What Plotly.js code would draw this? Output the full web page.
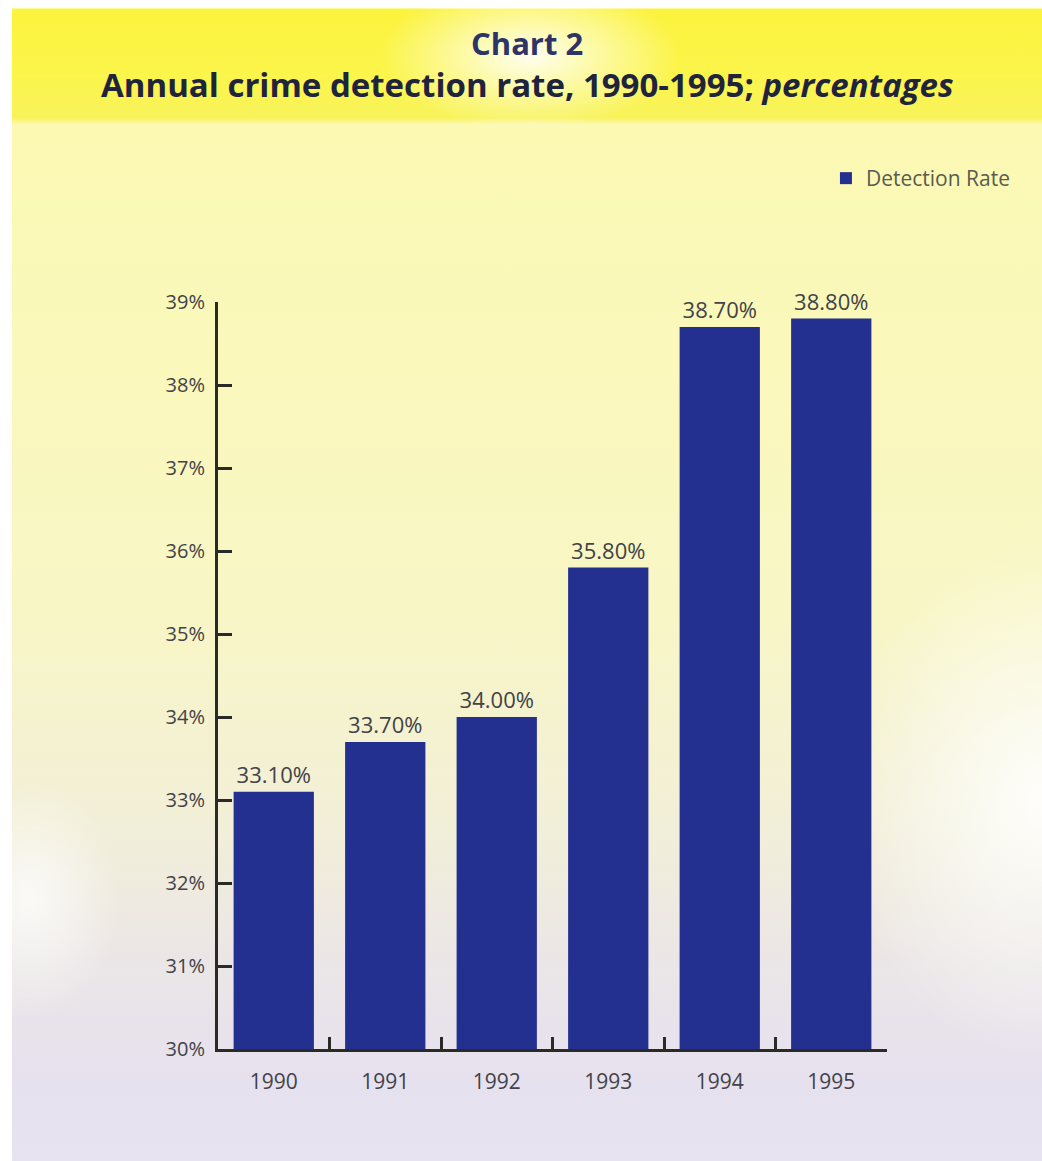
<!DOCTYPE html>
<html>
<head>
<meta charset="utf-8">
<script src="https://cdn.plot.ly/plotly-3.0.1.min.js"></script>
<style>
  html, body { margin: 0; padding: 0; background: #ffffff; }
  #wrap {
    position: relative; width: 1042px; height: 1161px; overflow: hidden;
    background:
      radial-gradient(ellipse 150px 75px at 530px 55px, rgba(255,255,250,0.95), rgba(255,255,250,0) 100%),
      radial-gradient(ellipse 200px 260px at 1040px 800px, rgba(255,255,255,0.9), rgba(255,255,255,0) 100%),
      radial-gradient(ellipse 90px 120px at 30px 900px, rgba(255,255,255,0.75), rgba(255,255,255,0) 100%),
      linear-gradient(to bottom,
        #ffffff 0px, #ffffff 8px,
        #fbf33c 9px, #fbf54a 70px, #f8f35a 118px,
        #fbf9b2 124px, #faf8bc 380px, #f8f6c6 620px,
        #f2efd8 820px, #ebe6e6 960px, #e6e1ee 1080px, #e8e3f0 1161px);
  }
  #wrap::before {
    content: ""; position: absolute; left: 0; top: 0; width: 12px; height: 1161px; background: #ffffff;
  }
  #chart { position: absolute; left: 0; top: 0; width: 1042px; height: 1161px; }
</style>
</head>
<body>
<div id="wrap"><div id="chart"></div></div>
<script>
// ---- data ----
const years = ["1990", "1991", "1992", "1993", "1994", "1995"];
const detectionRate = [33.1, 33.7, 34.0, 35.8, 38.7, 38.8];
const seriesName = "Detection Rate";
const yTickValues = [30, 31, 32, 33, 34, 35, 36, 37, 38, 39];
const yTickLabels = ["30%", "31%", "32%", "33%", "34%", "35%", "36%", "37%", "38%", "39%"];
const titleLine1 = "Chart 2";
const titleLine2 = "Annual crime detection rate, 1990-1995; <i>percentages</i>";

const barColor = "#24308f";
const axisColor = "#2a2a26";
const textColor = "#424247";
const axisBase = 30;

const trace = {
  type: "bar",
  name: seriesName,
  x: years,
  y: detectionRate.map(v => v - axisBase),
  base: axisBase,
  marker: { color: barColor, line: { width: 0 } },
  text: detectionRate.map(v => v.toFixed(2) + "%"),
  textposition: "outside",
  textfont: { family: "Open Sans", size: 22, color: textColor },
  cliponaxis: false,
  hoverinfo: "skip",
  showlegend: true
};

const layout = {
  width: 1042,
  height: 1161,
  margin: { l: 218, r: 155, t: 302, b: 112, pad: 0, autoexpand: false },
  paper_bgcolor: "rgba(0,0,0,0)",
  plot_bgcolor: "rgba(0,0,0,0)",
  bargap: 0.28,
  font: { family: "Open Sans", color: textColor },
  xaxis: {
    type: "category",
    range: [-0.5, 5.5],
    showline: true,
    linecolor: axisColor,
    linewidth: 3,
    ticks: "inside",
    tickson: "boundaries",
    ticklen: 12,
    tickwidth: 3,
    tickcolor: axisColor,
    showgrid: false,
    zeroline: false,
    tickfont: { family: "Open Sans", size: 21, color: textColor },
    ticklabelstandoff: 12
  },
  yaxis: {
    range: [30, 39],
    tickvals: yTickValues,
    ticktext: yTickLabels,
    showline: true,
    linecolor: axisColor,
    linewidth: 3,
    ticks: "inside",
    ticklen: 14,
    tickwidth: 3,
    tickcolor: axisColor,
    showgrid: false,
    zeroline: false,
    tickfont: { family: "Open Sans", size: 20, color: textColor },
    ticklabelstandoff: 6
  },
  showlegend: true,
  legend: {
    xref: "container", yref: "container",
    x: 0.975, xanchor: "right",
    y: 1 - 158 / 1161, yanchor: "top",
    bgcolor: "rgba(0,0,0,0)",
    font: { family: "Open Sans", size: 21, color: "#5a5a52" },
    itemwidth: 30
  },
  annotations: [
    {
      text: "<b>" + titleLine1 + "</b>",
      xref: "paper", yref: "paper",
      x: (527 - 218) / 669, y: (1049 - 43) / 747,
      xanchor: "center", yanchor: "middle",
      showarrow: false,
      font: { family: "Open Sans", size: 31, color: "#2e3566" }
    },
    {
      text: "<b>" + titleLine2 + "</b>",
      xref: "paper", yref: "paper",
      x: (527 - 218) / 669, y: (1049 - 85) / 747,
      xanchor: "center", yanchor: "middle",
      showarrow: false,
      font: { family: "Open Sans", size: 33, color: "#1f243c" }
    }
  ]
};

Plotly.newPlot("chart", [trace], layout, { displayModeBar: false, staticPlot: true });
</script>
</body>
</html>
